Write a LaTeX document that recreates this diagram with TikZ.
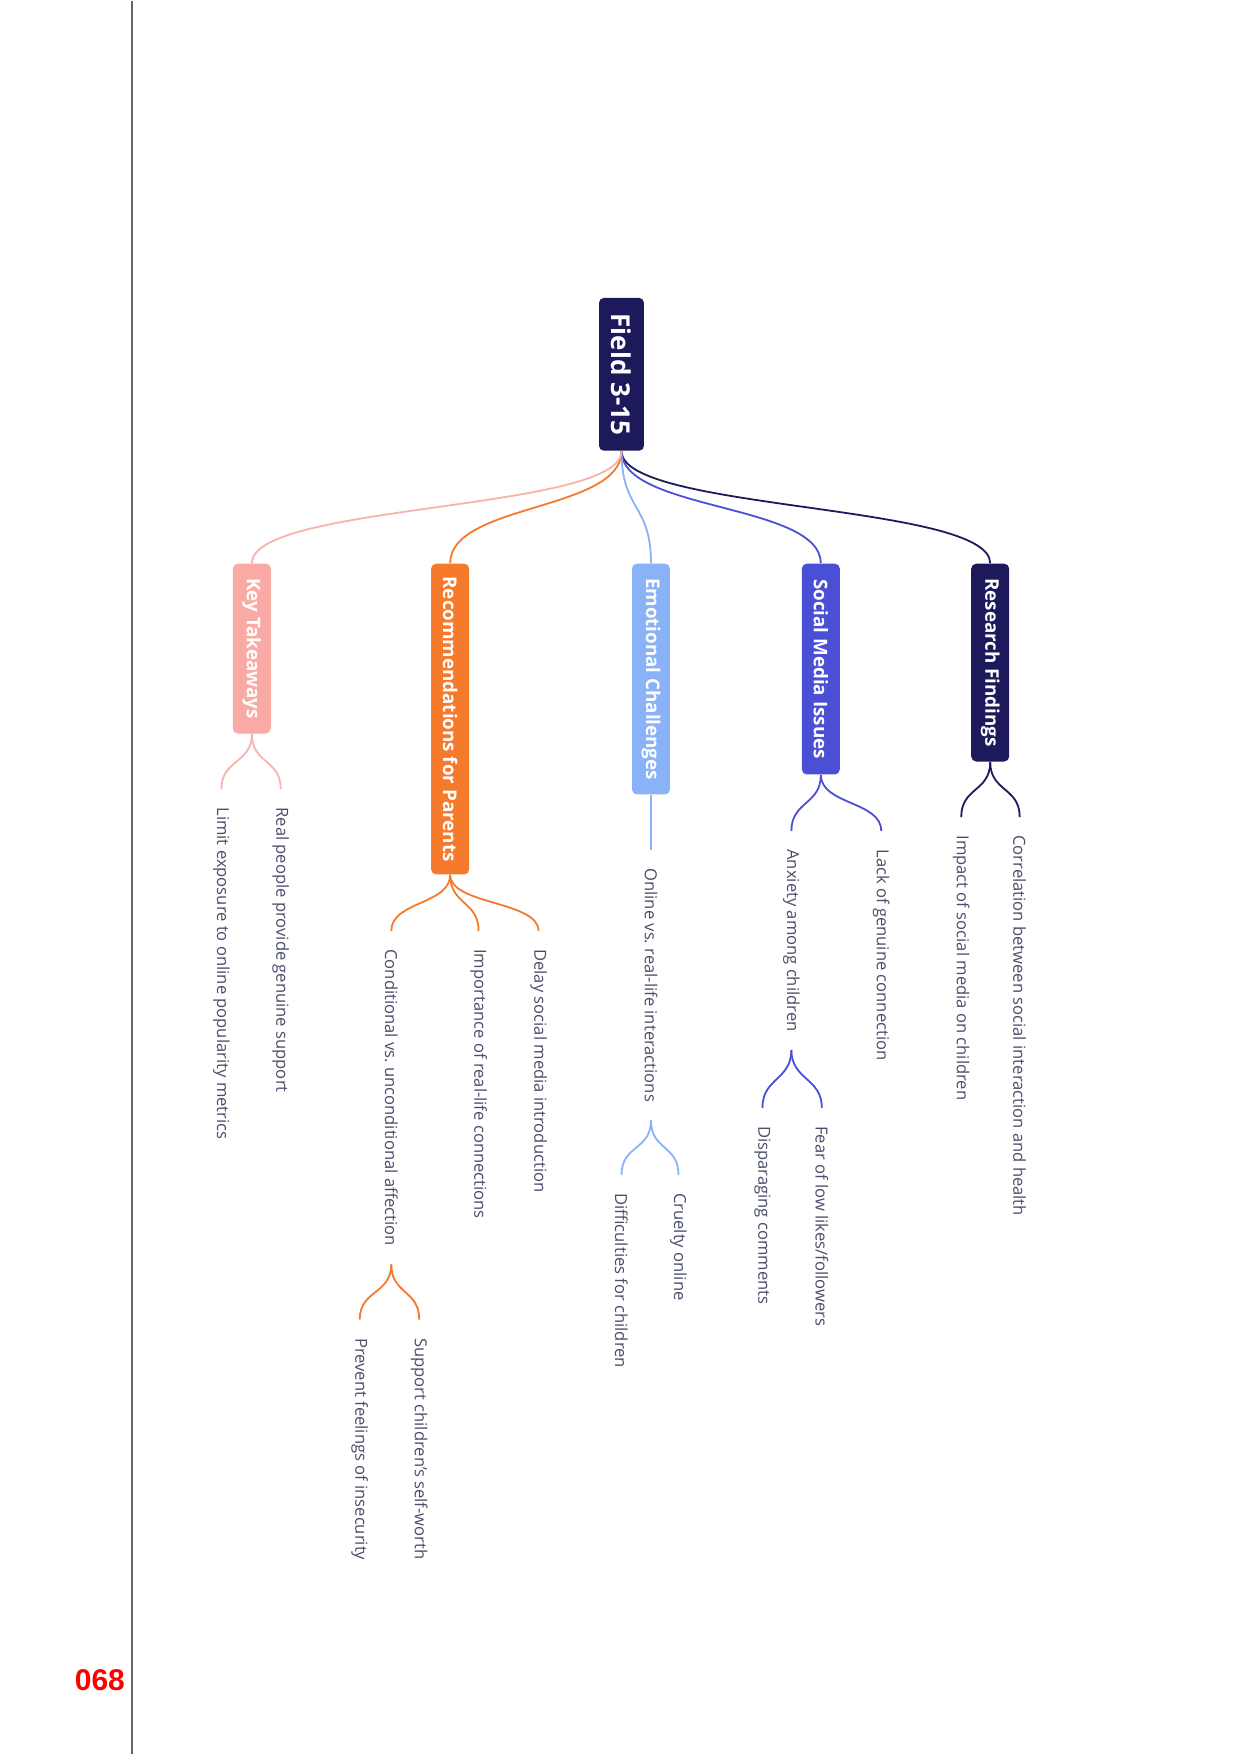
\documentclass[tikz,border=0pt]{standalone}
\usepackage{fontspec}
\setmainfont{Open Sans}
\newfontfamily\numfont{Liberation Sans}
\frenchspacing
\definecolor{navy}{HTML}{1C1A5A}
\definecolor{socblue}{HTML}{4A4FD5}
\definecolor{lblue}{HTML}{89B2F7}
\definecolor{orng}{HTML}{F57A2C}
\definecolor{pinkb}{HTML}{F9AAA4}
\definecolor{pinkc}{HTML}{F7B4AC}
\definecolor{leafc}{HTML}{4A4E6A}
\begin{document}
\begin{tikzpicture}[x=0.5pt,y=-0.5pt,
  box/.style={rotate=-90, anchor=west, rounded corners=2.5pt, minimum height=19pt,
    inner xsep=0pt, inner ysep=0pt, text=white, font=\fontsize{9.4}{11}\selectfont\bfseries},
  leaf/.style={rotate=-90, anchor=west, inner xsep=9pt, inner ysep=2pt, text=leafc,
    font=\fontsize{8.3}{10}\selectfont},
  conn/.style={line width=0.9pt},
  br/.style={conn},
]
\fill[white] (0,0) rectangle (1241,1755);
\draw[gray!80!black, line width=0.7pt] (132,0) -- (132,1755);
\node[text=red, font=\numfont\fontsize{15}{17}\selectfont\bfseries] (pg) at (100,1681) {068};

% root and branches
\node[box, fill=navy, minimum width=76.5pt, minimum height=22.5pt, font=\fontsize{13}{15}\selectfont\bfseries] (root) at (622,297) {Field 3-15};
\node[box, fill=navy, minimum width=99pt] (rf) at (991,563) {Research Findings};
\node[box, fill=socblue, minimum width=105.5pt] (sm) at (821.5,563) {Social Media Issues};
\node[box, fill=lblue, minimum width=115.5pt] (ec) at (651.5,563) {Emotional Challenges};
\node[box, fill=orng, minimum width=155.5pt] (rp) at (450.5,563) {Recommendations for Parents};
\node[box, fill=pinkb, minimum width=85pt] (kt) at (252,563) {Key Takeaways};

\draw[conn, navy] (root.east) .. controls +(0,60) and +(0,-60) .. (rf.west);
\draw[conn, socblue] (root.east) .. controls +(0,60) and +(0,-60) .. (sm.west);
\draw[conn, lblue] (root.east) .. controls +(0,60) and +(0,-60) .. (ec.west);
\draw[conn, orng] (root.east) .. controls +(0,60) and +(0,-60) .. (rp.west);
\draw[conn, pinkc] (root.east) .. controls +(0,60) and +(0,-60) .. (kt.west);

% leaves
\node[leaf] (rf1) at (1020.5,817) {Correlation between social interaction and health};
\node[leaf] (rf2) at (962,817) {Impact of social media on children};
\node[leaf] (sm1) at (882,831) {Lack of genuine connection};
\node[leaf] (sm2) at (792,831) {Anxiety among children};
\node[leaf] (sm21) at (822.5,1108) {Fear of low likes/followers};
\node[leaf] (sm22) at (763,1108) {Disparaging comments};
\node[leaf] (ec1) at (651.5,850) {Online vs. real-life interactions};
\node[leaf] (ec11) at (679,1175) {Cruelty online};
\node[leaf] (ec12) at (622,1175) {Difficulties for children};
\node[leaf] (rp1) at (539,931) {Delay social media introduction};
\node[leaf] (rp2) at (479,931) {Importance of real-life connections};
\node[leaf] (rp3) at (391.6,931) {Conditional vs. unconditional affection};
\node[leaf] (rp31) at (419.6,1320) {Support children’s self-worth};
\node[leaf] (rp32) at (360,1320) {Prevent feelings of insecurity};
\node[leaf] (kt1) at (281,789) {Real people provide genuine support};
\node[leaf] (kt2) at (221.6,789) {Limit exposure to online popularity metrics};

% brackets
\foreach \p/\c/\col in {rf/rf1/navy, rf/rf2/navy, sm/sm1/socblue, sm/sm2/socblue,
  sm2/sm21/socblue, sm2/sm22/socblue, ec1/ec11/lblue, ec1/ec12/lblue,
  rp/rp1/orng, rp/rp2/orng, rp/rp3/orng, rp3/rp31/orng, rp3/rp32/orng,
  kt/kt1/pinkc, kt/kt2/pinkc}
  \draw[br, \col] (\p.east) .. controls +(0,30) and +(0,-30) .. (\c.west);
\draw[br, lblue] (ec.east) -- (ec1.west);
\end{tikzpicture}
\end{document}
